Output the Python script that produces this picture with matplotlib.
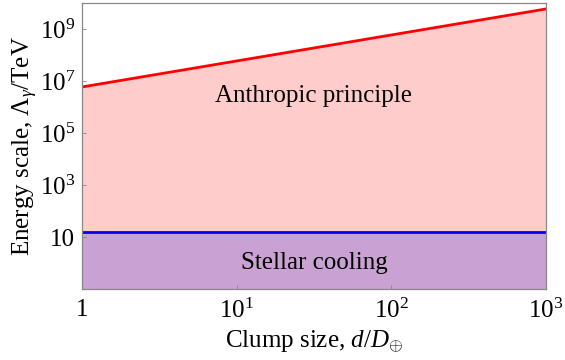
import numpy as np
import matplotlib
matplotlib.use("Agg")
import matplotlib.pyplot as plt

plt.rcParams['font.family'] = ['Liberation Serif', 'DejaVu Serif']
plt.rcParams['mathtext.fontset'] = 'custom'
plt.rcParams['mathtext.rm'] = 'Liberation Serif'
plt.rcParams['mathtext.it'] = 'Liberation Serif:italic'
plt.rcParams['mathtext.cal'] = 'Liberation Serif'

# Clump size range and the two bounds on the energy scale
clump_size = [1, 1000]
anthropic_bound = [5.9e6, 5.9e9]   # grows linearly with d
stellar_bound = [15, 15]

x_ticks = [1, 10, 100, 1000]
x_tick_labels = ['1', '$10^1$', '$10^2$', '$10^3$']
y_ticks = [10, 1e3, 1e5, 1e7, 1e9]
y_tick_labels = ['10', '$10^3$', '$10^5$', '$10^7$', '$10^9$']

FS = 18

fig = plt.figure(figsize=(5.65, 3.6), dpi=100)
ax = fig.add_axes([82 / 565, 1 - 289 / 360, (546 - 82) / 565, (289 - 3) / 360])
ax.set_xscale('log')
ax.set_yscale('log')
ax.set_xlim(1, 1000)
ax.set_ylim(0.1, 1e10)

ax.fill_between(clump_size, 0.1, anthropic_bound, color='#ffcccc', lw=0)
ax.fill_between(clump_size, 0.1, stellar_bound, color='#c9a1d3', lw=0)
ax.plot(clump_size, anthropic_bound, color='#ff0000', lw=2)
ax.plot(clump_size, stellar_bound, color='#0000ff', lw=2)

ax.text(31.6, 10**6.42, 'Anthropic principle', ha='center', va='center', fontsize=FS)
ax.text(31.6, 1.0, 'Stellar cooling', ha='center', va='center', fontsize=FS)

ax.set_xticks(x_ticks)
ax.set_xticklabels(x_tick_labels)
ax.set_yticks(y_ticks)
ax.set_yticklabels(y_tick_labels)
ax.minorticks_off()
ax.tick_params(direction='in', length=3, width=0.6, color='#888888',
               labelsize=FS)
ax.tick_params(axis='x', pad=7)
ax.tick_params(axis='y', pad=5)

for s in ax.spines.values():
    s.set_color('#888888')
    s.set_linewidth(0.9)

ax.set_xlabel(r'Clump size, $d/D_{\oplus}$', fontsize=FS, labelpad=4)
ax.set_ylabel(r'Energy scale, $\Lambda_{\gamma}$/TeV', fontsize=FS, labelpad=0)

fig.savefig('out.png', dpi=100)
